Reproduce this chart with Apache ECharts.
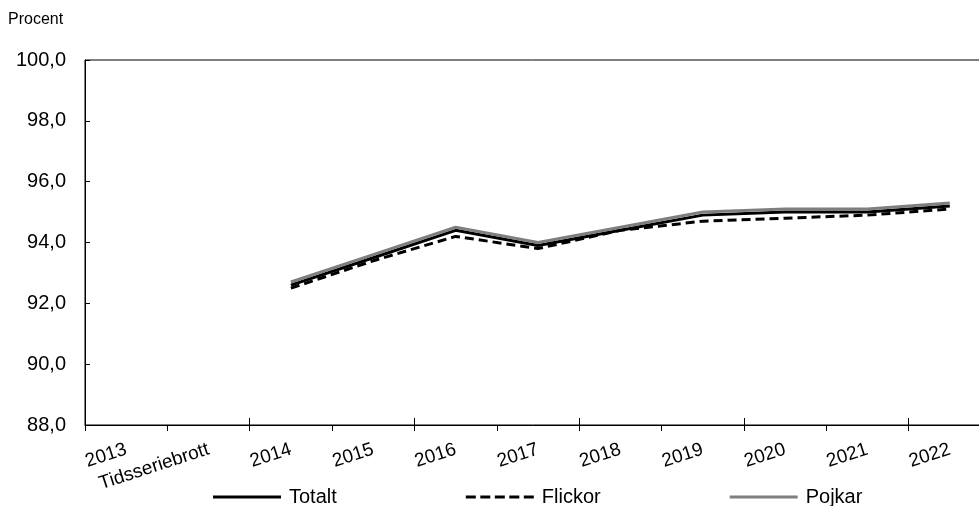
<!DOCTYPE html>
<html>
<head>
<meta charset="utf-8">
<script src="https://cdn.jsdelivr.net/npm/echarts@6/dist/echarts.min.js"></script>
<style>
  html, body { margin: 0; padding: 0; background: #fff; }
  #chart { width: 979px; height: 506px; }
</style>
</head>
<body>
<div id="chart"></div>
<script>
const categories = ['2013', 'Tidsseriebrott', '2014', '2015', '2016', '2017', '2018', '2019', '2020', '2021', '2022'];
const totalt = [null, null, 92.6, 93.5, 94.4, 93.9, 94.4, 94.9, 95.0, 95.0, 95.2];
const flickor = [null, null, 92.5, 93.4, 94.2, 93.8, 94.4, 94.7, 94.8, 94.9, 95.1];
const pojkar = [null, null, 92.7, 93.6, 94.5, 94.0, 94.5, 95.0, 95.1, 95.1, 95.3];

const font = 'Liberation Sans, Arial, sans-serif';

// legend icons drawn as flat bars, dashed one split in pieces
const solidIcon = 'path://M0,0h68v3h-68z';
const dashedIcon = 'path://M0,0h10v3h-10z M14.5,0h10v3h-10z M29,0h10v3h-10z M43.5,0h10v3h-10z M58,0h10v3h-10z';

const chart = echarts.init(document.getElementById('chart'));

const option = {
  animation: false,
  textStyle: { fontFamily: font },
  title: {
    text: 'Procent',
    left: 8,
    top: 12,
    padding: 0,
    textStyle: { fontSize: 16, fontWeight: 'normal', color: '#000', fontFamily: font }
  },
  grid: {
    left: 85,
    top: 60,
    right: -12,
    bottom: 81,
    containLabel: false,
    outerBoundsMode: 'none',
    show: true,
    borderColor: '#000',
    borderWidth: 1
  },
  legend: {
    left: 213,
    top: 487,
    padding: 0,
    itemWidth: 68,
    itemHeight: 3,
    itemGap: 129,
    selectedMode: false,
    textStyle: { fontSize: 20, color: '#000', fontFamily: font, padding: [0, 0, 0, 3] },
    data: [
      { name: 'Totalt', icon: solidIcon },
      { name: 'Flickor', icon: dashedIcon },
      { name: 'Pojkar', icon: solidIcon }
    ]
  },
  xAxis: [
    {
      type: 'category',
      data: categories,
      position: 'bottom',
      axisLine: { lineStyle: { color: '#000', width: 1 } },
      axisTick: { show: true, length: 6, lineStyle: { color: '#000' } },
      axisLabel: {
        rotate: 18,
        margin: 24,
        interval: 0,
        fontSize: 19,
        color: '#000',
        fontFamily: font
      },
      splitLine: { show: false }
    },
    {
      // upper half of the crossing ticks
      type: 'category',
      data: categories,
      position: 'bottom',
      offset: -7,
      axisLine: { show: false },
      axisTick: { show: true, length: 7, lineStyle: { color: '#000' } },
      axisLabel: { show: false },
      splitLine: { show: false }
    }
  ],
  yAxis: {
    type: 'value',
    min: 88,
    max: 100,
    interval: 2,
    axisLine: { show: true, lineStyle: { color: '#000', width: 1 } },
    axisTick: { show: true, inside: true, length: 5, lineStyle: { color: '#000' } },
    axisLabel: {
      margin: 19,
      fontSize: 20,
      color: '#000',
      fontFamily: font,
      formatter: val => val.toFixed(1).replace('.', ',')
    },
    splitLine: { show: false }
  },
  series: [
    {
      name: 'Totalt',
      type: 'line',
      data: totalt,
      symbol: 'none',
      lineStyle: { color: '#000', width: 3 },
      itemStyle: { color: '#000' }
    },
    {
      name: 'Flickor',
      type: 'line',
      data: flickor,
      symbol: 'none',
      lineStyle: { color: '#000', width: 3, type: [9, 5] },
      itemStyle: { color: '#000' }
    },
    {
      name: 'Pojkar',
      type: 'line',
      data: pojkar,
      symbol: 'none',
      lineStyle: { color: '#7f7f7f', width: 3 },
      itemStyle: { color: '#7f7f7f' }
    }
  ]
};

chart.setOption(option);
</script>
</body>
</html>
